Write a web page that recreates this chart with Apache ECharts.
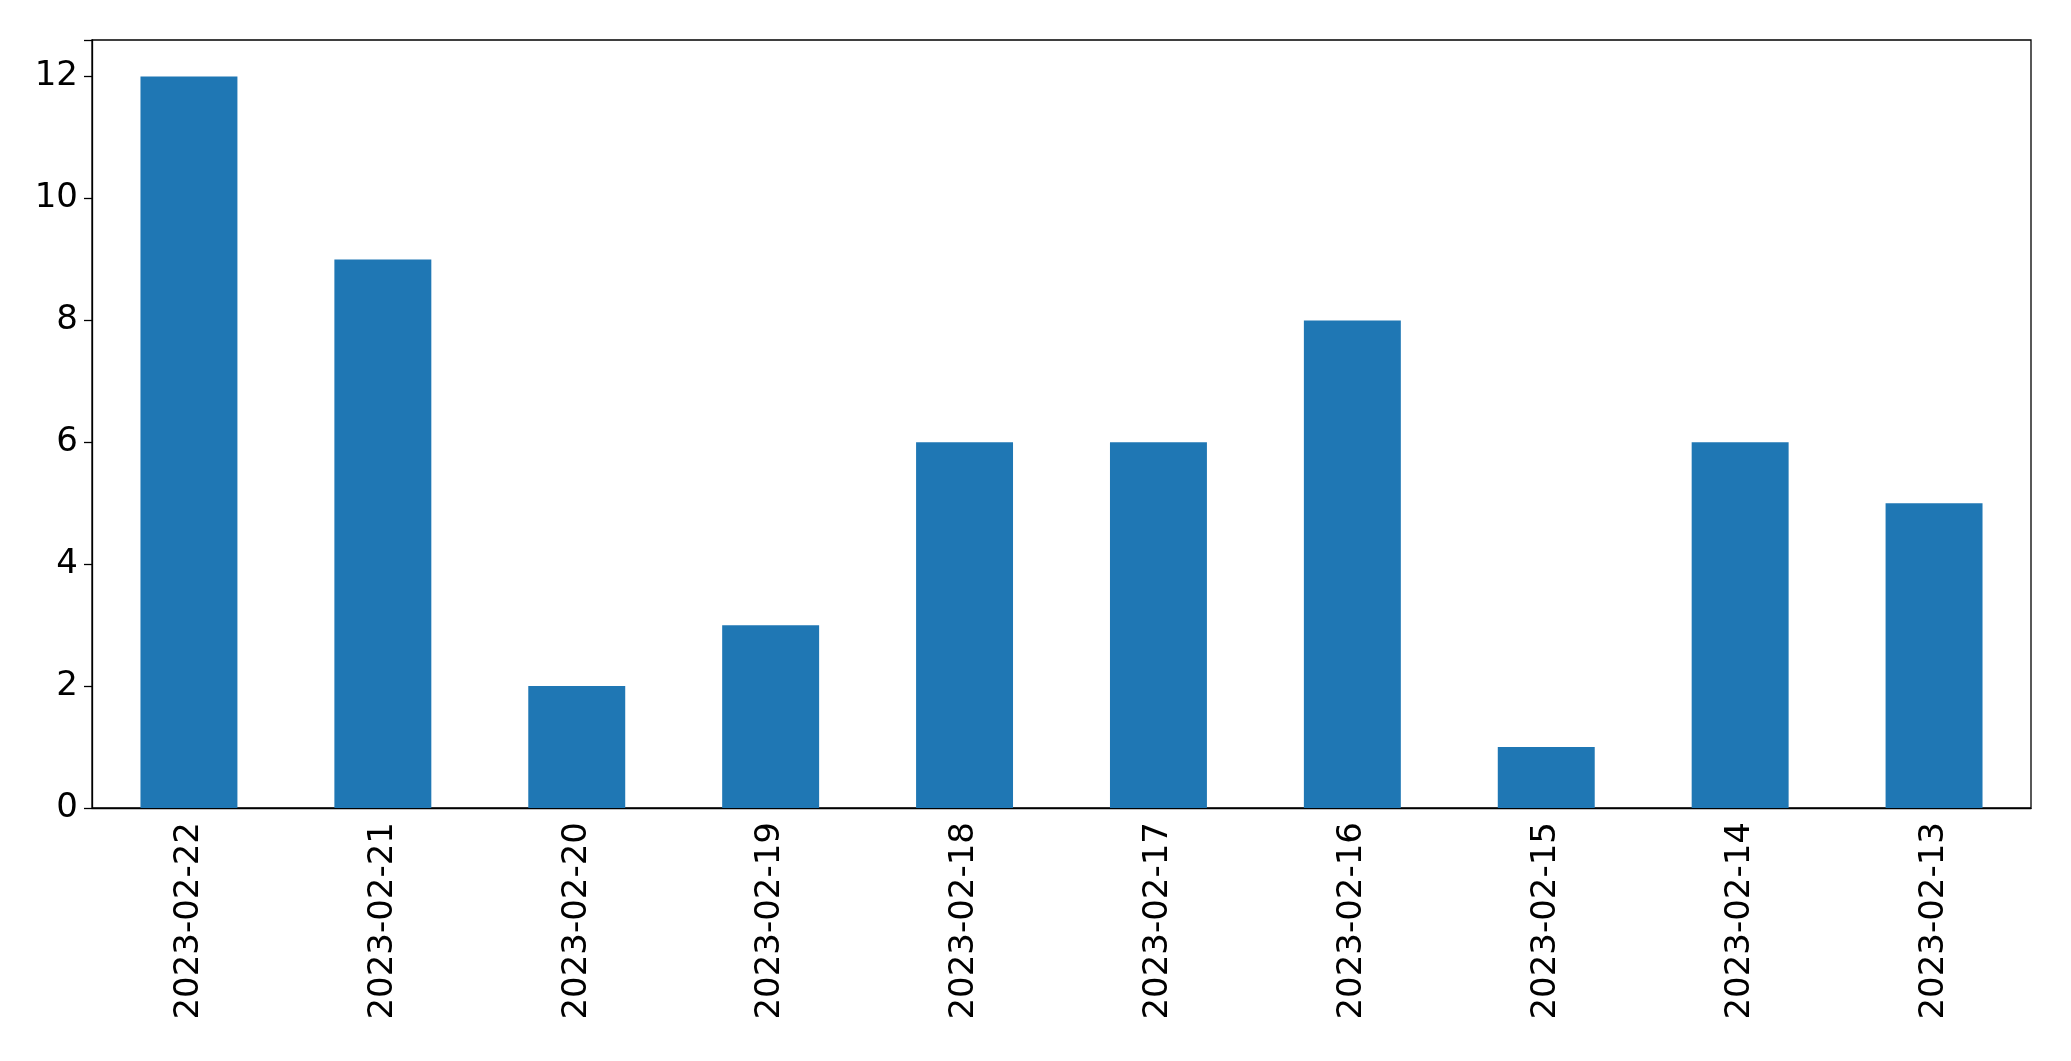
<!DOCTYPE html>
<html><head><meta charset="utf-8">
<script src="https://cdn.jsdelivr.net/npm/echarts@6/dist/echarts.min.js"></script>
<style>html,body{margin:0;padding:0;background:#fff}#c{width:2071px;height:1061px}</style>
</head><body><div id="c"></div>
<script>
const categories = ['2023-02-22','2023-02-21','2023-02-20','2023-02-19','2023-02-18','2023-02-17','2023-02-16','2023-02-15','2023-02-14','2023-02-13'];
const values = [12, 9, 2, 3, 6, 6, 8, 1, 6, 5];
const chart = echarts.init(document.getElementById('c'));
chart.setOption({
  animation: false,
  grid: {left: 92, right: 40, top: 40, bottom: 253, show: true, borderColor: '#000', borderWidth: 1.3},
  xAxis: {type: 'category', data: categories,
    axisLine: {lineStyle: {color: '#000', width: 1.3}},
    axisTick: {alignWithLabel: true, length: 8, lineStyle: {color: '#000', width: 1.3}},
    axisLabel: {rotate: 90, fontSize: 34, fontFamily: 'DejaVu Sans', color: '#000', margin: 14}},
  yAxis: {type: 'value', min: 0, max: 12.6, interval: 2,
    splitLine: {show: false},
    axisLine: {show: true, lineStyle: {color: '#000', width: 1.3}},
    axisTick: {show: true, length: 8, lineStyle: {color: '#000', width: 1.3}},
    axisLabel: {fontSize: 34, fontFamily: 'DejaVu Sans', color: '#000', margin: 14,
      formatter: v => (v % 2 === 0 && v <= 12) ? String(v) : ''}},
  series: [{type: 'bar', data: values, barWidth: '50%', itemStyle: {color: '#1f77b4'}}]
});
</script></body></html>
